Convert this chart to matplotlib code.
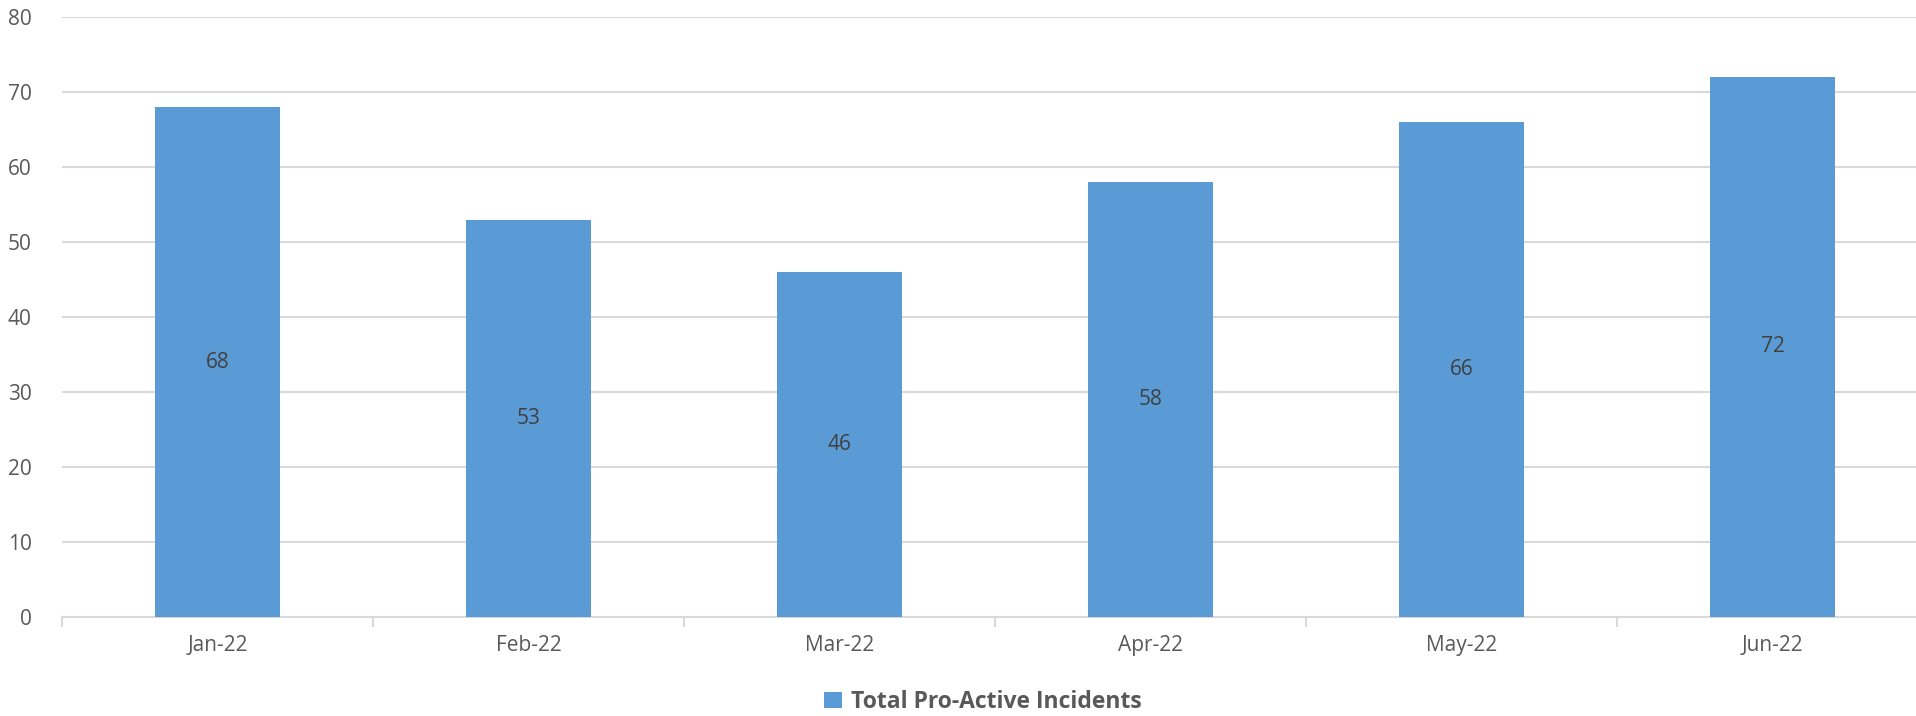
import numpy as np
import matplotlib.pyplot as plt

months = ["Jan-22", "Feb-22", "Mar-22", "Apr-22", "May-22", "Jun-22"]
incidents = [68, 53, 46, 58, 66, 72]
series_name = "Total Pro-Active Incidents"

bar_color = "#5B9BD5"
grid_color = "#D9D9D9"
text_color = "#595959"

plt.rcParams['font.family'] = ['Open Sans', 'DejaVu Sans']

fig = plt.figure(figsize=(19.16, 7.16), dpi=100)
# plot area runs slightly past the right edge, as in the reference
ax = fig.add_axes([62 / 1916, 99 / 716, 1866 / 1916, 600 / 716])

x = np.arange(len(months))
bars = ax.bar(x, incidents, width=0.40, color=bar_color, label=series_name, zorder=3)

for xi, v in zip(x, incidents):
    ax.text(xi, v / 2, str(v), ha="center", va="center", fontsize=15, color="#404040", zorder=4)

ax.set_xlim(-0.5, len(months) - 0.5)
ax.set_ylim(0, 80)
ax.set_yticks(np.arange(0, 81, 10))
ax.yaxis.grid(True, color=grid_color, linewidth=1.5, zorder=0)
ax.set_axisbelow(True)

ax.set_xticks(x)
ax.set_xticklabels(months)
ax.set_xticks(np.arange(-0.5, len(months), 1.0), minor=True)
ax.tick_params(axis="x", which="major", length=0, pad=13, labelsize=15, labelcolor=text_color)
ax.tick_params(axis="x", which="minor", length=7, width=1.5, color=grid_color)
ax.tick_params(axis="y", length=0, pad=22, labelsize=15, labelcolor=text_color)

for side in ["top", "right", "left"]:
    ax.spines[side].set_visible(False)
ax.spines["bottom"].set_color(grid_color)
ax.spines["bottom"].set_linewidth(1.5)

leg = fig.legend(handles=[bars], labels=[series_name], loc="center",
                 bbox_to_anchor=(983 / 1916, 14 / 716), frameon=False,
                 handlelength=0.75, handleheight=0.75, handletextpad=0.4,
                 prop={"size": 16.5, "weight": "bold"})
for t in leg.get_texts():
    t.set_color(text_color)

fig.savefig("out.png", dpi=100)
